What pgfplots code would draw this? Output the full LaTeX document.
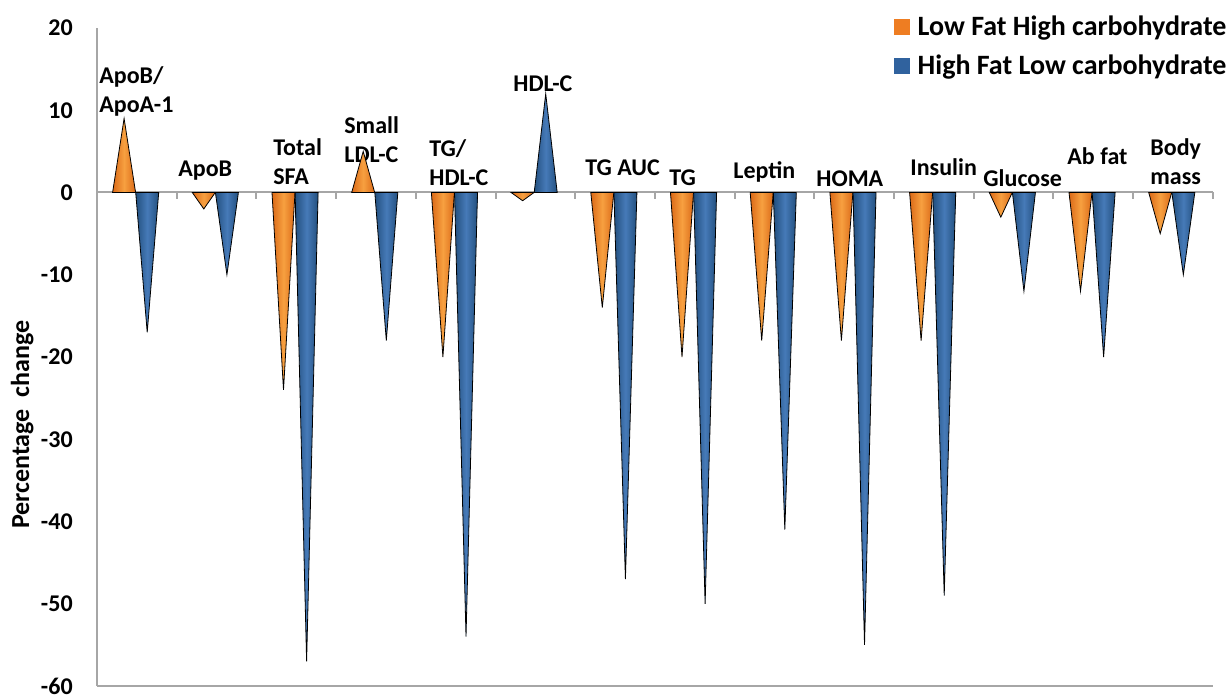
\documentclass[border=0pt]{standalone}
\usepackage{pgfplots}
\pgfplotsset{compat=1.18}
\usepackage{pgfplotstable}
\usepackage{fontspec}
\setmainfont{Carlito}

\definecolor{lfhc}{HTML}{EE7D22}
\definecolor{lfhcdark}{HTML}{DB6A18}
\definecolor{lfhclight}{HTML}{F7A040}
\definecolor{hflc}{HTML}{30629E}
\definecolor{hflcdark}{HTML}{23507F}
\definecolor{hflclight}{HTML}{467AB8}
\definecolor{axisgray}{HTML}{A6A6A6}

% a mark that draws nothing, the cone is drawn by the scatter code
\pgfdeclareplotmark{empty}{}

% percentage change, low fat/high carb vs high fat/low carb
\pgfplotstableread{
idx lfhc hflc
0    9  -17
1   -2  -10
2  -24  -57
3    5  -18
4  -20  -54
5   -1   12
6  -14  -47
7  -20  -50
8  -18  -41
9  -18  -55
10 -18  -49
11  -3  -12
12 -12  -20
13  -5  -10
}\changes

\newcommand{\yunit}{4.1125}
\newcommand{\halfw}{5.75pt}

\pgfplotsset{
  cone/.style n args={3}{
    scatter, only marks, mark=empty,
    visualization depends on={rawy \as \val},
    scatter/@pre marker code/.code={%
      \pgfmathsetmacro\h{-\val*\yunit}%
      \shade[left color=#1, right color=#1, middle color=#2]
        (0pt,0pt) -- (-\halfw,\h pt) -- (\halfw,\h pt) -- cycle;
    },
    scatter/@post marker code/.code={},
    legend image code/.code={\fill[#3] (0pt,-3.75pt) rectangle (7.5pt,3.75pt);},
  },
}
\tikzset{
  lab/.style={font=\bfseries\fontsize{12}{14.5}\selectfont, inner sep=0pt,
    align=left, anchor=south west},
}

\begin{document}
\begin{tikzpicture}
\begin{axis}[
  x=39.85pt, y=\yunit pt,
  xmin=0, xmax=14, ymin=-60, ymax=20,
  axis lines=left,
  axis line style={axisgray, line width=1pt, -},
  xtick=\empty,
  ytick={-60,-50,...,20},
  ytick style={draw=none},
  yticklabel style={font=\bfseries\fontsize{12}{14}\selectfont, xshift=-6.5pt},
  /pgf/number format/assume math mode=true,
  ylabel={Percentage\ \ change},
  ylabel style={font=\bfseries\fontsize{13}{15}\selectfont,
    at={(axis description cs:-0.067,0.397)}, anchor=center},
  legend style={draw=none, fill=none, at={(rel axis cs:1,1)}, anchor=north east,
    xshift=11pt, yshift=8.5pt, font=\bfseries\fontsize{14}{15}\selectfont,
    row sep=4.5pt, inner sep=0pt,
    nodes={inner xsep=4pt}},
  legend cell align=left,
  clip=false,
]
\addplot[cone={lfhcdark}{lfhclight}{lfhc}] table[x expr=\thisrow{idx}+0.34, y=lfhc] {\changes};
\addlegendentry{Low Fat High carbohydrate}
\addplot[cone={hflcdark}{hflclight}{hflc}] table[x expr=\thisrow{idx}+0.63, y=hflc] {\changes};
\addlegendentry{High Fat Low carbohydrate}

\draw[axisgray, line width=1pt] (axis cs:0,0) -- (axis cs:14,0);
\pgfplotsinvokeforeach{1,...,14}{
  \draw[axisgray, line width=1pt] (axis cs:#1,0) -- (axis cs:#1,-0.85);
}

\node[lab] at (axis cs:0.025,9.24) {ApoB/\\ApoA-1};
\node[lab] at (axis cs:1.016,1.46) {ApoB};
\node[lab] at (axis cs:2.208,0.85) {Total\\SFA};
\node[lab] at (axis cs:3.099,3.53) {Small\\LDL-C};
\node[lab] at (axis cs:4.166,0.73) {TG/\\HDL-C};
\node[lab] at (axis cs:5.219,12.16) {HDL-C};
\node[lab] at (axis cs:6.123,1.95) {TG AUC};
\node[lab] at (axis cs:7.177,0.73) {TG};
\node[lab] at (axis cs:7.980,1.22) {Leptin};
\node[lab] at (axis cs:9.021,0.61) {HOMA};
\node[lab] at (axis cs:10.201,1.95) {Insulin};
\node[lab] at (axis cs:11.117,0.61) {Glucose};
\node[lab] at (axis cs:12.171,3.28) {Ab fat};
\node[lab] at (axis cs:13.212,0.85) {Body\\mass};
\end{axis}
\pgfresetboundingbox
\path[use as bounding box] (-48.5pt,-6pt) rectangle (566.5pt,343pt);
\end{tikzpicture}
\end{document}
